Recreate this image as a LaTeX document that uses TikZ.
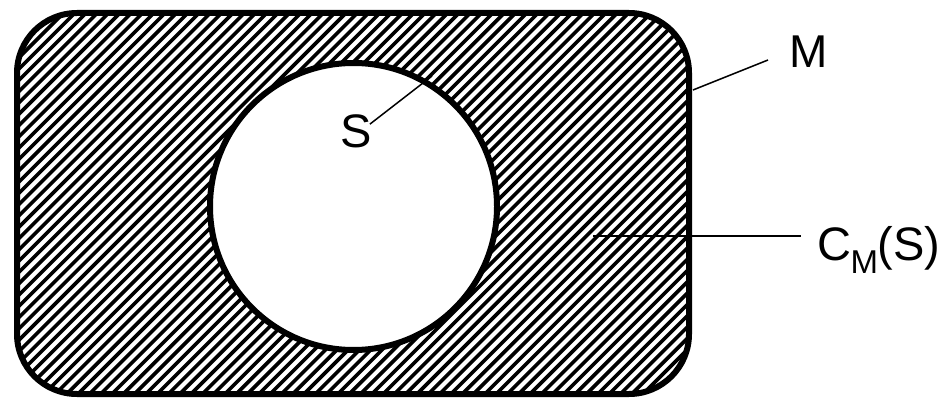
\documentclass[tikz,border=0pt]{standalone}
\usepackage{fontspec}
\setmainfont{Liberation Sans}
\begin{document}
\begin{tikzpicture}[x=1pt,y=-1pt,
  border/.style={line width=6pt},
  hatchline/.style={line width=3.6pt},
  leader/.style={line width=1.5pt},
  lbl/.style={font=\fontsize{47}{56}\selectfont, inner sep=0pt}]
\useasboundingbox (0,0) rectangle (944,398);
% hatched region
\begin{scope}
  \clip[rounded corners=60pt] (17,13) rectangle (689,394);
  \foreach \i in {-40,...,110} {
    \draw[hatchline] (\i*11.3-400,420) -- (\i*11.3+20,0);
  }
\end{scope}
\node[draw, border, circle, fill=white, minimum size=287pt, inner sep=0pt] (S) at (353.5,206.5) {};
\draw[border, rounded corners=60pt] (17,13) rectangle (689,394);
% labels
\node[lbl] (lS) at (356,131) {S};
\node[lbl, font=\fontsize{46}{56}\selectfont] (lM) at (809,51.5) {M};
\node[lbl, anchor=base west] (lC) at (817,260) {C\kern-0.5pt\raisebox{-13pt}{\fontsize{33}{33}\selectfont M}\kern-0.5pt(S)};
\coordinate (mEnd) at (693,90);
\coordinate (sEnd) at (432,76);
\coordinate (cEnd) at (593,236);
\draw[leader] (lS.north east) ++(-2,10) -- (sEnd);
\draw[leader] (mEnd) -- (768,60);
\draw[leader] (cEnd) -- (801,236);
\end{tikzpicture}
\end{document}
